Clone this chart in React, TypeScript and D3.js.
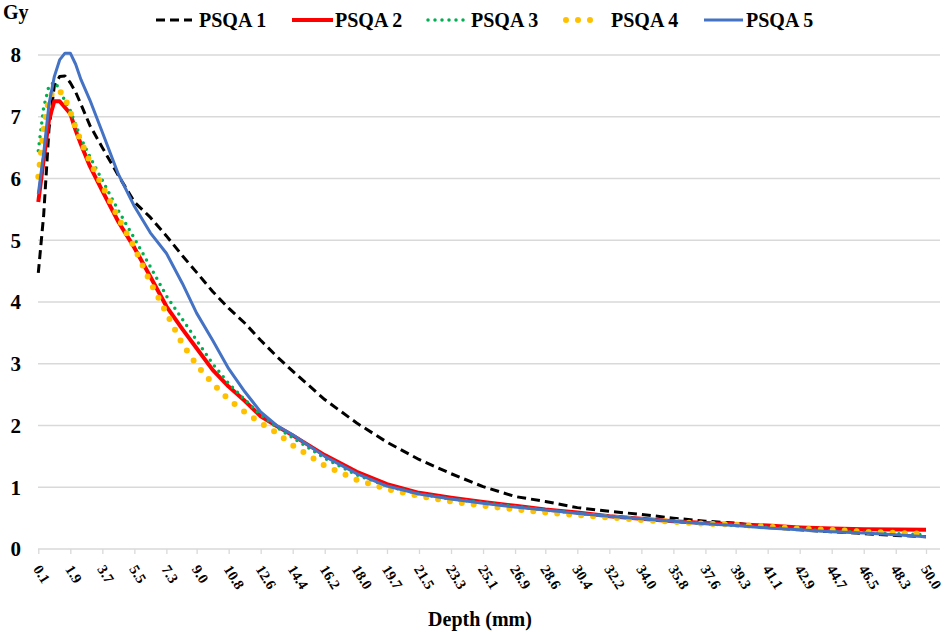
import React, { useRef, useEffect } from 'react';
import * as d3 from 'd3';

// depth (mm) of the sampled points
const depths = [
  0.1, 0.4, 0.7, 1.0, 1.3, 1.6, 1.9, 2.2, 2.5, 3.0, 3.7, 4.6, 5.5, 6.4, 7.3, 8.2, 9.0, 9.9,
  10.8, 11.7, 12.6, 13.5, 14.4, 16.2, 18.0, 19.7, 21.5, 23.3, 25.1, 26.9, 28.6, 30.4, 32.2,
  34.0, 35.8, 37.6, 39.3, 41.1, 42.9, 44.7, 46.5, 48.3, 50.0,
];

const psqa1 = [
  4.47, 5.4, 6.8, 7.5, 7.65, 7.66, 7.55, 7.4, 7.2, 6.86, 6.5, 6.05, 5.62, 5.37, 5.07, 4.75, 4.48,
  4.17, 3.9, 3.66, 3.38, 3.12, 2.88, 2.42, 2.04, 1.73, 1.45, 1.22, 1.01, 0.85, 0.77, 0.67, 0.61,
  0.56, 0.5, 0.45, 0.42, 0.35, 0.31, 0.28, 0.25, 0.22, 0.2,
];
const psqa2 = [
  5.62, 6.3, 6.95, 7.25, 7.25, 7.15, 7.05, 6.78, 6.55, 6.2, 5.8, 5.3, 4.88, 4.41, 3.93, 3.56, 3.25,
  2.9, 2.63, 2.4, 2.15, 1.99, 1.84, 1.52, 1.25, 1.05, 0.91, 0.83, 0.76, 0.7, 0.64, 0.59, 0.53,
  0.49, 0.45, 0.42, 0.4, 0.38, 0.35, 0.33, 0.32, 0.315, 0.31,
];
const psqa3 = [
  6.45, 7.15, 7.5, 7.56, 7.45, 7.25, 7.1, 6.87, 6.65, 6.35, 5.97, 5.48, 5.03, 4.57, 4.1, 3.72, 3.38,
  3.0, 2.68, 2.42, 2.17, 1.97, 1.8, 1.47, 1.2, 1.02, 0.89, 0.81, 0.75, 0.69, 0.63, 0.58, 0.53,
  0.49, 0.45, 0.41, 0.38, 0.35, 0.32, 0.29, 0.27, 0.25, 0.23,
];
const psqa4 = [
  6.03, 6.8, 7.3, 7.43, 7.42, 7.3, 7.08, 6.82, 6.6, 6.27, 5.88, 5.36, 4.88, 4.32, 3.82, 3.32, 2.98,
  2.68, 2.42, 2.22, 2.04, 1.88, 1.68, 1.35, 1.12, 0.97, 0.86, 0.77, 0.7, 0.64, 0.59, 0.55, 0.51,
  0.47, 0.44, 0.41, 0.395, 0.36, 0.33, 0.31, 0.28, 0.26, 0.245,
];
const psqa5 = [
  5.75, 6.4, 7.2, 7.65, 7.92, 8.03, 8.03, 7.85, 7.6, 7.27, 6.75, 6.07, 5.55, 5.12, 4.79, 4.3, 3.82,
  3.38, 2.92, 2.55, 2.22, 2.0, 1.85, 1.5, 1.22, 1.02, 0.89, 0.81, 0.74, 0.68, 0.63, 0.58, 0.53,
  0.49, 0.45, 0.41, 0.38, 0.34, 0.31, 0.28, 0.26, 0.23, 0.2,
];

const xTickLabels = [
  0.1, 1.9, 3.7, 5.5, 7.3, 9.0, 10.8, 12.6, 14.4, 16.2, 18.0, 19.7, 21.5, 23.3, 25.1, 26.9, 28.6,
  30.4, 32.2, 34.0, 35.8, 37.6, 39.3, 41.1, 42.9, 44.7, 46.5, 48.3, 50.0,
];
const yTicks = [0, 1, 2, 3, 4, 5, 6, 7, 8];

const seriesNames = ['PSQA 1', 'PSQA 2', 'PSQA 3', 'PSQA 4', 'PSQA 5'];
const seriesValues = [psqa1, psqa2, psqa3, psqa4, psqa5];

const styles = [
  { color: '#000000', width: 3, dash: '9 5', cap: 'butt' },
  { color: '#ff0000', width: 4, dash: null, cap: 'butt' },
  { color: '#00b050', width: 3.5, dash: '0 7', cap: 'round' },
  { color: '#ffc000', width: 6, dash: '0 12', cap: 'round' },
  { color: '#4472c4', width: 3, dash: null, cap: 'butt' },
];
// legend entries: [line start, line end, text start]
const legendPos = [
  [156, 192, 199],
  [292, 333, 335],
  [428, 469, 471],
  [566, 602, 611],
  [704, 743, 746],
];

const FONT = '"Liberation Serif", "Times New Roman", serif';

const DoseChart: React.FC = () => {
  const svgRef = useRef<SVGSVGElement | null>(null);
  const width = 945;
  const height = 632;

  useEffect(() => {
    const svg = d3.select(svgRef.current);
    svg.selectAll('*').remove();

    const x = d3.scaleLinear().domain([0.1, 50]).range([38.3, 926]);
    const y = d3.scaleLinear().domain([0, 8]).range([549, 55]);

    // gridlines
    svg.append('g')
      .selectAll('line')
      .data(yTicks.filter(t => t > 0))
      .join('line')
      .attr('x1', 38)
      .attr('x2', 940)
      .attr('y1', d => y(d))
      .attr('y2', d => y(d))
      .attr('stroke', '#d9d9d9')
      .attr('stroke-width', 1.3);

    // x axis
    const xAxis = svg.append('g')
      .attr('transform', `translate(0,${y(0)})`)
      .call(
        d3.axisBottom(x)
          .tickValues(xTickLabels)
          .tickFormat(d => (d as number).toFixed(1))
          .tickSize(5)
          .tickSizeOuter(0)
      );
    xAxis.select('.domain').remove();
    xAxis.append('line')
      .attr('x1', 38)
      .attr('x2', 940)
      .attr('stroke', '#d9d9d9')
      .attr('stroke-width', 1.3);
    xAxis.selectAll('.tick line').attr('stroke', '#d9d9d9').attr('stroke-width', 1.3);
    xAxis.selectAll('.tick text')
      .attr('font-family', FONT)
      .attr('font-weight', 'bold')
      .attr('font-size', 14.5)
      .attr('fill', '#000')
      .attr('text-anchor', 'start')
      .attr('x', 0)
      .attr('y', 0)
      .attr('dy', 0)
      .attr('transform', 'translate(-6,20) rotate(58)');

    // y tick labels
    svg.append('g')
      .selectAll('text')
      .data(yTicks)
      .join('text')
      .attr('x', 21)
      .attr('y', d => y(d))
      .attr('dy', '0.35em')
      .attr('text-anchor', 'end')
      .attr('font-family', FONT)
      .attr('font-weight', 'bold')
      .attr('font-size', 21)
      .text(d => d);

    svg.append('text')
      .attr('x', 3)
      .attr('y', 19)
      .attr('font-family', FONT)
      .attr('font-weight', 'bold')
      .attr('font-size', 20)
      .text('Gy');

    svg.append('text')
      .attr('x', 480)
      .attr('y', 626)
      .attr('text-anchor', 'middle')
      .attr('font-family', FONT)
      .attr('font-weight', 'bold')
      .attr('font-size', 20)
      .text('Depth (mm)');

    // series
    const line = d3.line<number>()
      .x((_, i) => x(depths[i]))
      .y(d => y(d));

    seriesValues.forEach((vals, i) => {
      const s = styles[i];
      svg.append('path')
        .datum(vals)
        .attr('d', line)
        .attr('fill', 'none')
        .attr('stroke', s.color)
        .attr('stroke-width', s.width)
        .attr('stroke-linecap', s.cap)
        .attr('stroke-linejoin', 'round')
        .attr('stroke-dasharray', s.dash);
    });

    // legend
    const legend = svg.append('g');
    seriesNames.forEach((name, i) => {
      const s = styles[i];
      const [x1, x2, tx] = legendPos[i];
      legend.append('line')
        .attr('x1', x1)
        .attr('x2', x2)
        .attr('y1', 20)
        .attr('y2', 20)
        .attr('stroke', s.color)
        .attr('stroke-width', s.width)
        .attr('stroke-linecap', s.cap)
        .attr('stroke-dasharray', s.dash);
      legend.append('text')
        .attr('x', tx)
        .attr('y', 27)
        .attr('font-family', FONT)
        .attr('font-weight', 'bold')
        .attr('font-size', 20)
        .text(name);
    });

    svg.attr('width', width).attr('height', height);
  }, []);

  return (
    <svg
      ref={svgRef}
      style={{ position: 'absolute', left: 0, top: 0, display: 'block', background: '#fff' }}
    ></svg>
  );
};

export default function App() {
  return <DoseChart />;
}
